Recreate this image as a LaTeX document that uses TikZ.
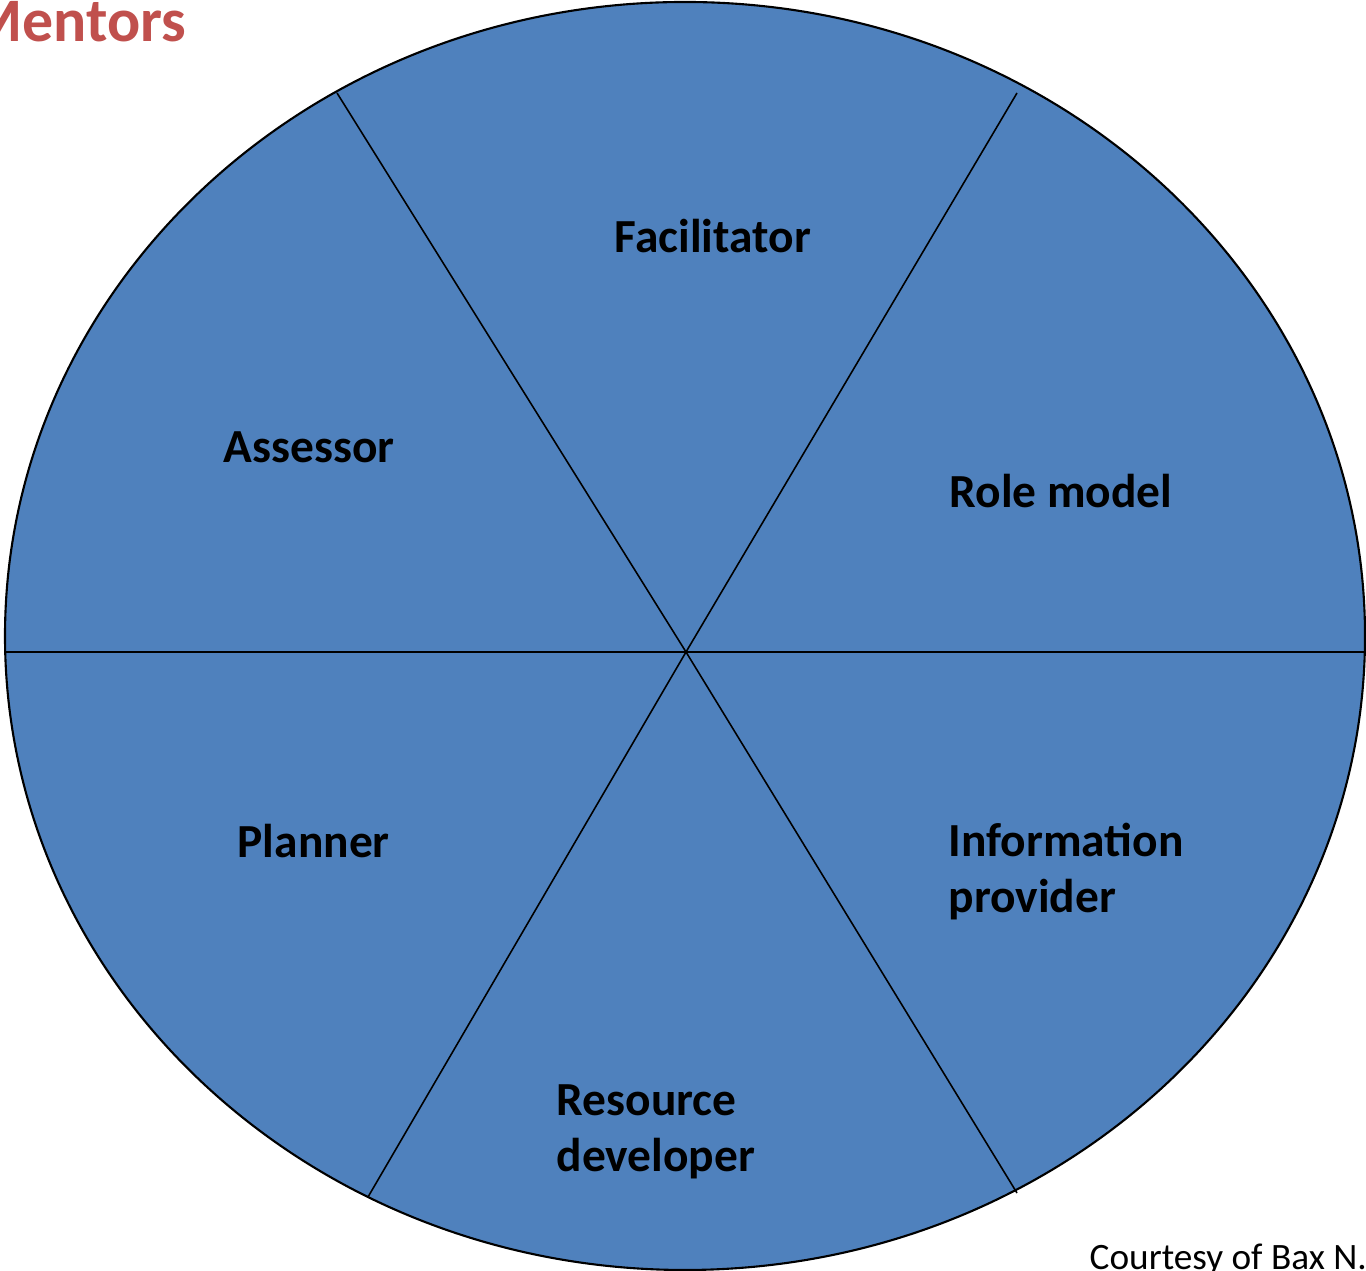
\documentclass[tikz,border=0pt]{standalone}
\usepackage{fontspec}
\setmainfont{Carlito}
\definecolor{pieblue}{RGB}{79,129,189}
\definecolor{titlered}{RGB}{192,80,77}

\begin{document}
\begin{tikzpicture}

      \useasboundingbox (0,0) rectangle (13.66,12.71);

      \draw[line width=0.6pt,fill=pieblue] (6.85,6.35) ellipse [x radius=6.80, y radius=6.34];

      \coordinate (c)  at (6.86,6.19);
      \coordinate (1)  at (13.65,6.19);
      \coordinate (2)  at (10.17,11.78);
      \coordinate (3)  at (3.37,11.78);
      \coordinate (4)  at (0.05,6.19);
      \coordinate (5)  at (3.68,0.74);
      \coordinate (6)  at (10.17,0.78);

      \begin{scope}[line width=0.45pt]
        \draw (c) -- (1);
        \draw (c) -- (2);
        \draw (c) -- (3);
        \draw (c) -- (4);
        \draw (c) -- (5);
        \draw (c) -- (6);
      \end{scope}

      \begin{scope}[every node/.style={anchor=base west,inner sep=0pt,align=left,
          font=\bfseries\fontsize{13.5}{16.2}\selectfont}]
        \node (facilitator) at (6.14,10.18) {Facilitator};
        \node (assessor)    at (2.23,8.08)  {Assessor};
        \node (rolemodel)   at (9.49,7.63)  {Role model};
        \node (planner)     at (2.37,4.13)  {Planner};
        \node (information) at (9.48,3.58)  {Information\\provider};
        \node (resource)    at (5.56,0.99)  {Resource\\developer};
      \end{scope}

      \node[anchor=base west,inner sep=0pt,text=titlered,
        font=\bfseries\fontsize{17.6}{21}\selectfont] (mentors) at (-0.32,12.29) {Mentors};
      \node[anchor=base west,inner sep=0pt,
        font=\fontsize{10.6}{12}\selectfont] (courtesy) at (10.89,0.01) {Courtesy of Bax N.};

    \end{tikzpicture}
\end{document}
